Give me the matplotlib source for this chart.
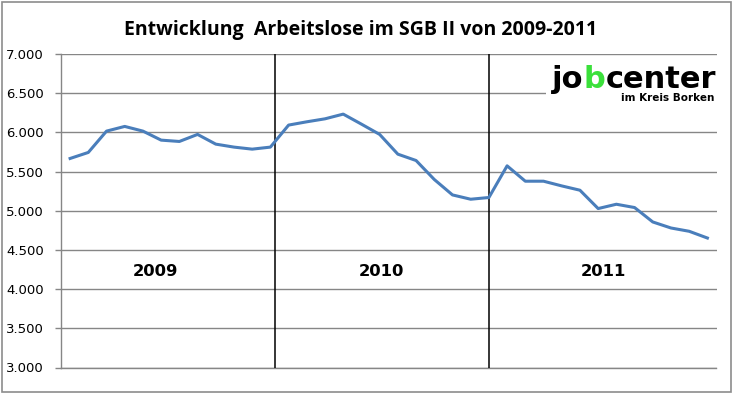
import matplotlib
matplotlib.use("Agg")
import matplotlib.pyplot as plt
from matplotlib.patches import Rectangle
from matplotlib.ticker import FuncFormatter

# ---- data ----
months = list(range(36))
values = [5667, 5744, 6016, 6076, 6016, 5901, 5884, 5974, 5850, 5812, 5786, 5812,
          6093, 6135, 6173, 6233, 6105, 5974, 5722, 5641, 5399, 5202, 5147, 5169,
          5573, 5377, 5377, 5317, 5262, 5028, 5083, 5041, 4857, 4780, 4738, 4652]
years = ["2009", "2010", "2011"]
yticks = [3000, 3500, 4000, 4500, 5000, 5500, 6000, 6500, 7000]
title = "Entwicklung  Arbeitslose im SGB II von 2009-2011"

W, H = 733, 393
fig = plt.figure(figsize=(W / 100, H / 100), dpi=100)
fig.patch.set_facecolor("white")

# chart border
fig.add_artist(Rectangle((1.5 / W, 1.5 / H), (W - 3.5) / W, (H - 3.5) / H,
                         transform=fig.transFigure, fill=False,
                         edgecolor="#8c8c8c", linewidth=1.2))

ax = fig.add_axes([61 / W, (H - 367.5) / H, 655.5 / W, 313.5 / H])
ax.set_xlim(-0.5, 35.5)
ax.set_ylim(3000, 7000)

ax.set_yticks(yticks)
ax.yaxis.set_major_formatter(FuncFormatter(lambda v, p: f"{int(v):,}".replace(",", ".")))
ax.yaxis.grid(True, color="#868686", linewidth=1.0)
ax.set_axisbelow(True)
ax.set_xticks([])
for s in ["top", "right"]:
    ax.spines[s].set_visible(False)
ax.spines["left"].set_color("#868686")
ax.spines["bottom"].set_color("#868686")
ax.spines["left"].set_linewidth(1.0)
ax.spines["bottom"].set_linewidth(1.0)
ax.tick_params(axis="y", direction="out", length=4.5, width=1.0, color="#868686",
               pad=8, labelsize=9.5, labelcolor="black")
for lab in ax.get_yticklabels():
    lab.set_fontfamily("DejaVu Sans")

# year separators
for xv in [11.26, 23.0]:
    ax.axvline(xv, color="black", linewidth=1.1, zorder=3)

ax.plot(months, values, color="#4A7EBB", linewidth=2.2, zorder=4,
        solid_joinstyle="round")

# year labels
for xv, t in zip([4.67, 17.1, 29.3], years):
    ax.text(xv, 4230, t, ha="center", va="center", fontsize=11.8,
            fontweight="bold", family="DejaVu Sans", color="black")

fig.text(361 / W, 1 - 30.5 / H, title, ha="center", va="center",
         fontsize=14, fontweight="bold", family="Open Sans", color="black")

# logo (as text)
fig.add_artist(Rectangle((546 / W, 1 - 103 / H), 171 / W, 45 / H,
                         transform=fig.transFigure, facecolor="white",
                         edgecolor="none", zorder=5))
base = 1 - 88 / H
fig.text(583 / W, base, "jo", ha="right", va="baseline", fontsize=22,
         fontweight="bold", family="DejaVu Sans", color="black", zorder=6)
fig.text(594 / W, base, "b", ha="center", va="baseline", fontsize=22,
         fontweight="bold", family="DejaVu Sans", color="#3BE03B", zorder=6)
fig.text(716 / W, base, "center", ha="right", va="baseline", fontsize=22,
         fontweight="bold", family="DejaVu Sans", color="black", zorder=6)
fig.text(714 / W, 1 - 101 / H, "im Kreis Borken", ha="right", va="baseline",
         fontsize=7.5, fontweight="bold", family="DejaVu Sans", color="black",
         zorder=6)

fig.savefig("out.png", dpi=100, facecolor="white")
